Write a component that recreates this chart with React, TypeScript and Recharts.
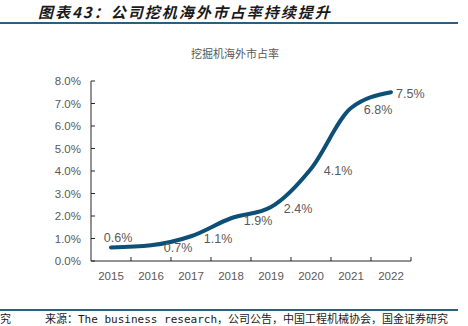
import React from 'react';
import { LineChart, Line, XAxis, YAxis, LabelList } from 'recharts';

const years = ['2015', '2016', '2017', '2018', '2019', '2020', '2021', '2022'];
const share = [0.6, 0.7, 1.1, 1.9, 2.4, 4.1, 6.8, 7.5];
const yTicks = [0, 1, 2, 3, 4, 5, 6, 7, 8];

const data = years.map((year, i) => ({ year, share: share[i] }));

const gray = '#595959';
const axisColor = '#262626';
const lineColor = '#0d4f76';
const tickFont = '"Liberation Sans", Arial, sans-serif';

const YTick = (props: any) => {
  const { x, y, payload } = props;
  return (
    <g>
      <line x1={x + 10} x2={x + 14} y1={y} y2={y} stroke={axisColor} strokeWidth={1} />
      <text x={x} y={y} dy="0.35em" textAnchor="end" fill={gray} fontSize={11.5} fontFamily={tickFont}>
        {`${payload.value.toFixed(1)}%`}
      </text>
    </g>
  );
};

const XTick = (props: any) => {
  const { x, y, payload } = props;
  const axisY = y - 11;
  return (
    <g>
      <line x1={x + 20} x2={x + 20} y1={axisY} y2={axisY - 4} stroke={axisColor} strokeWidth={1} />
      <text x={x} y={y} dy="0.71em" textAnchor="middle" fill={gray} fontSize={11.5} fontFamily={tickFont}>
        {payload.value}
      </text>
    </g>
  );
};

const ValueLabel = (props: any) => {
  const { x, y, value, index } = props;
  let tx = x + 27;
  let ty = y + 2;
  let anchor: 'middle' | 'start' = 'middle';
  if (index === 0) {
    tx = x + 7;
    ty = y - 10;
  } else if (index === share.length - 1) {
    tx = x + 5;
    ty = y + 1;
    anchor = 'start';
  }
  return (
    <text x={tx} y={ty} dy="0.35em" textAnchor={anchor} fill={gray} fontSize={12.5} fontFamily={tickFont}>
      {`${value.toFixed(1)}%`}
    </text>
  );
};

const footStyle: React.CSSProperties = {
  position: 'absolute',
  top: 313,
  fontSize: 11,
  color: '#1a1a1a',
  lineHeight: '13px',
  whiteSpace: 'nowrap',
  fontFamily: '"DejaVu Sans Mono", "Noto Sans CJK SC", monospace',
};

export default function App() {
  return (
    <div
      style={{
        position: 'absolute',
        left: 0,
        top: 0,
        width: 468,
        height: 326,
        overflow: 'hidden',
        background: '#fff',
        fontFamily: '"Noto Sans CJK SC", sans-serif',
      }}
    >
      <div
        style={{
          position: 'absolute',
          left: 38,
          top: 2,
          fontSize: 15,
          fontWeight: 700,
          fontStyle: 'italic',
          letterSpacing: 2,
          color: '#1a1a1a',
          lineHeight: '20px',
          whiteSpace: 'nowrap',
        }}
      >
        图表43：公司挖机海外市占率持续提升
      </div>
      <div style={{ position: 'absolute', left: 0, top: 22, width: 458, height: 2, background: '#2b5f80' }} />

      <div
        style={{
          position: 'absolute',
          left: 0,
          width: 470,
          top: 45,
          textAlign: 'center',
          fontSize: 11,
          color: gray,
          lineHeight: '16px',
        }}
      >
        挖掘机海外市占率
      </div>

      <div style={{ position: 'absolute', left: 0, top: 0 }}>
        <LineChart width={468} height={326} data={data} margin={{ top: 81, right: 57, bottom: 35, left: 41 }}>
          <XAxis
            dataKey="year"
            padding={{ left: 20, right: 20 }}
            stroke={axisColor}
            tickLine={false}
            tickSize={0}
            tickMargin={11}
            height={30}
            interval={0}
            tick={<XTick />}
          />
          <YAxis
            domain={[0, 8]}
            ticks={yTicks}
            width={50}
            stroke={axisColor}
            tickLine={false}
            tickSize={0}
            tickMargin={10}
            interval={0}
            tick={<YTick />}
          />
          <Line
            type="monotone"
            dataKey="share"
            stroke={lineColor}
            strokeWidth={4}
            strokeLinecap="round"
            dot={false}
            isAnimationActive={false}
          >
            <LabelList dataKey="share" content={<ValueLabel />} />
          </Line>
        </LineChart>
      </div>

      <div style={{ position: 'absolute', left: 0, top: 309, width: 458, height: 1.5, background: '#2b5f80' }} />
      <div style={{ ...footStyle, left: 0 }}>究</div>
      <div style={{ ...footStyle, left: 45 }}>
        来源：The business research，公司公告，中国工程机械协会，国金证券研究
      </div>
    </div>
  );
}
